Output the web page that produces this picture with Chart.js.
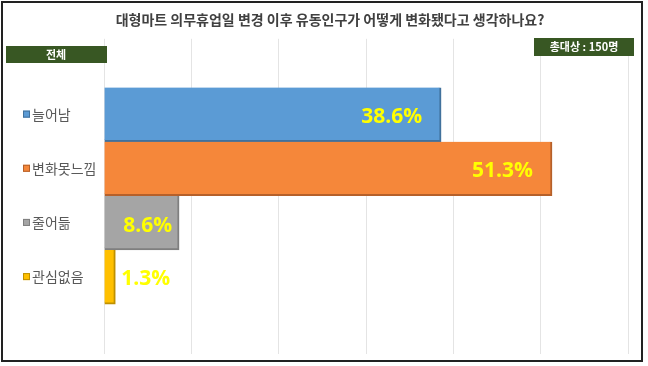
<!DOCTYPE html>
<html>
<head>
<meta charset="utf-8">
<script src="https://cdn.jsdelivr.net/npm/chart.js@4.4.1/dist/chart.umd.min.js"></script>
<style>
  html, body { margin: 0; padding: 0; background: #fff; overflow: hidden; }
  canvas { display: block; }
</style>
</head>
<body>
<canvas id="chart" width="648" height="366"></canvas>
<script>
const categories = ["늘어남", "변화못느낌", "줄어듦", "관심없음"];
const values = [38.6, 51.3, 8.6, 1.3];
const xTicks = [0, 10, 20, 30, 40, 50, 60];

const fillColors = ["#5B9BD5", "#F5873A", "#A5A5A5", "#FFC000"];
const edgeColors = ["#41719C", "#B5602A", "#7F7F7F", "#BF9000"];

// frame, green boxes, legend squares and value labels
const decor = {
  id: "decor",
  beforeDraw(chart) {
    const c = chart.ctx;
    c.save();
    c.fillStyle = "#fff";
    c.fillRect(0, 0, chart.width, chart.height);
    c.restore();
  },
  afterDatasetsDraw(chart) {
    const c = chart.ctx;
    const meta = chart.getDatasetMeta(0);
    c.save();
    c.font = "bold 21px 'Open Sans'";
    c.fillStyle = "#FFFF00";
    c.textBaseline = "middle";
    meta.data.forEach((bar, i) => {
      const txt = values[i].toFixed(1) + "%";
      const len = bar.x - bar.base;
      if (len > 100) {
        c.textAlign = "right";
        c.fillText(txt, bar.x - 19, bar.y + 2);
      } else if (len > 40) {
        c.textAlign = "right";
        c.fillText(txt, bar.x - 7, bar.y + 3);
      } else {
        c.textAlign = "left";
        c.fillText(txt, bar.x + 6, bar.y + 2);
      }
    });
    c.restore();
  },
  afterDraw(chart) {
    const c = chart.ctx;
    const y = chart.scales.y;
    c.save();
    // legend keys beside category labels
    categories.forEach((cat, i) => {
      const py = y.getPixelForValue(i);
      c.fillStyle = fillColors[i];
      c.fillRect(23, py - 4, 7, 7);
      c.strokeStyle = edgeColors[i];
      c.lineWidth = 1;
      c.strokeRect(23.5, py - 3.5, 6, 6);
    });
    // green tag boxes
    c.fillStyle = "#385723";
    c.fillRect(6, 46, 101, 17);
    c.fillRect(534, 38, 100, 18);
    c.fillStyle = "#fff";
    c.textAlign = "center";
    c.textBaseline = "middle";
    c.font = "bold 11px 'Noto Sans CJK KR'";
    c.fillText("전체", 56, 55);
    c.fillText("총대상 : 150명", 584, 47);
    // outer frame
    c.strokeStyle = "#222";
    c.lineWidth = 2;
    c.strokeRect(2, 2, 640, 359);
    c.restore();
  }
};

new Chart(document.getElementById("chart"), {
  type: "bar",
  data: {
    datasets: [
      {
        data: values.map((v, i) => ({ x: v, y: i })),
        backgroundColor: fillColors,
        borderColor: edgeColors,
        borderWidth: { top: 0, left: 0, right: 2, bottom: 2 },
        borderSkipped: false,
        barThickness: 54,
      },
    ],
  },
  options: {
    indexAxis: "y",
    responsive: false,
    animation: false,
    layout: {
      padding: { top: 6, left: 32, right: 20, bottom: 12 },
    },
    plugins: {
      legend: { display: false },
      tooltip: { enabled: false },
      title: {
        display: true,
        text: "대형마트 의무휴업일 변경 이후 유동인구가 어떻게 변화됐다고 생각하나요?",
        color: "#404040",
        font: { family: "'Noto Sans CJK KR'", size: 14, weight: "bold" },
        padding: { top: 5, bottom: 11 },
      },
    },
    scales: {
      x: {
        type: "linear",
        min: xTicks[0],
        max: xTicks[xTicks.length - 1],
        afterBuildTicks: (axis) => {
          axis.ticks = xTicks.map((v) => ({ value: v }));
        },
        ticks: { display: false },
        grid: { color: "#E4E4E4", drawTicks: false },
        border: { display: false },
      },
      y: {
        type: "linear",
        reverse: true,
        offset: false,
        min: -1.4,
        max: 4.42,
        afterBuildTicks: (axis) => {
          axis.ticks = categories.map((c, i) => ({ value: i }));
        },
        afterFit: (axis) => {
          axis.width = 72;
        },
        ticks: {
          crossAlign: "far",
          color: "#595959",
          font: { family: "'Noto Sans CJK KR'", size: 14 },
          callback: (v) => categories[v],
        },
        grid: { display: false, offset: false },
        border: { display: false },
      },
    },
  },
  plugins: [decor],
});
</script>
</body>
</html>
